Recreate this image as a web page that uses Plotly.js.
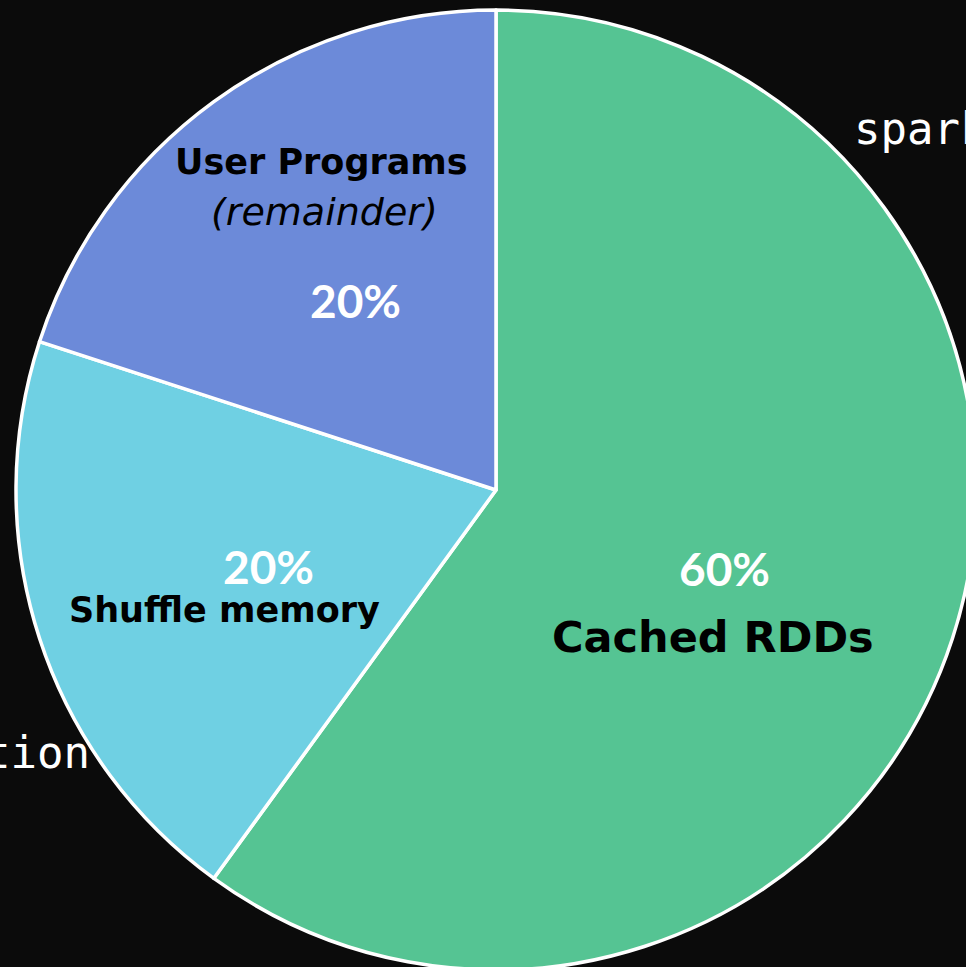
<!DOCTYPE html>
<html>
<head>
<meta charset="utf-8">
<script src="https://cdn.plot.ly/plotly-3.0.1.min.js"></script>
<style>
  html, body { margin: 0; padding: 0; background: #0b0b0b; overflow: hidden; }
  #plot { width: 1000px; height: 1000px; }
</style>
</head>
<body>
<div id="plot"></div>
<script>
// memory split, clockwise from 12 o'clock
const labels = ["Cached RDDs", "Shuffle memory", "User Programs"];
const values = [60, 20, 20];
const colors = ["#55c493", "#6fd0e3", "#6c8ad9"];

// page is 1000x1000, window only shows 966x967 of it
const W = 1000, H = 1000;
const px = (x) => x / W;
const py = (y) => 1 - y / H;

const labelFont = { family: "DejaVu Sans", size: 35, color: "#000000", weight: "bold" };
const pctFont = { family: "Lato", size: 46, color: "#ffffff", weight: "bold" };
const monoFont = { family: "DejaVu Sans Mono", size: 44, color: "#ffffff" };

let data = [
    {
        type: "pie",
        labels: labels,
        values: values,
        sort: false,
        direction: "clockwise",
        rotation: 0,
        textinfo: "none",
        hoverinfo: "label+percent",
        marker: { colors: colors, line: { color: "#ffffff", width: 3.5 } },
        domain: { x: [px(16), px(976)], y: [py(970), py(10)] },
        showlegend: false
    }
];

const ann = (text, x, y, font, xanchor) => ({
    text: text,
    x: px(x),
    y: py(y),
    xref: "paper",
    yref: "paper",
    xanchor: xanchor || "center",
    yanchor: "middle",
    showarrow: false,
    font: font
});

let layout = {
    width: W,
    height: H,
    margin: { l: 0, r: 0, t: 0, b: 0 },
    paper_bgcolor: "#0b0b0b",
    plot_bgcolor: "#0b0b0b",
    annotations: [
        ann(labels[2], 321, 162, labelFont),
        ann("<i>(remainder)</i>", 324, 212, { family: "DejaVu Sans", size: 38, color: "#000000" }),
        ann(values[2] + "%", 355, 300, pctFont),
        ann(values[1] + "%", 268, 566, pctFont),
        ann(labels[1], 224, 610, labelFont),
        ann(values[0] + "%", 724, 568, pctFont),
        ann(labels[0], 713, 637, { family: "DejaVu Sans", size: 43, color: "#000000", weight: "bold" }),
        ann("spark", 852, 128, monoFont, "left"),
        ann("tion", 92, 752, monoFont, "right")
    ]
};

let config = { responsive: false, displayModeBar: false };

Plotly.newPlot("plot", data, layout, config);
</script>
</body>
</html>
